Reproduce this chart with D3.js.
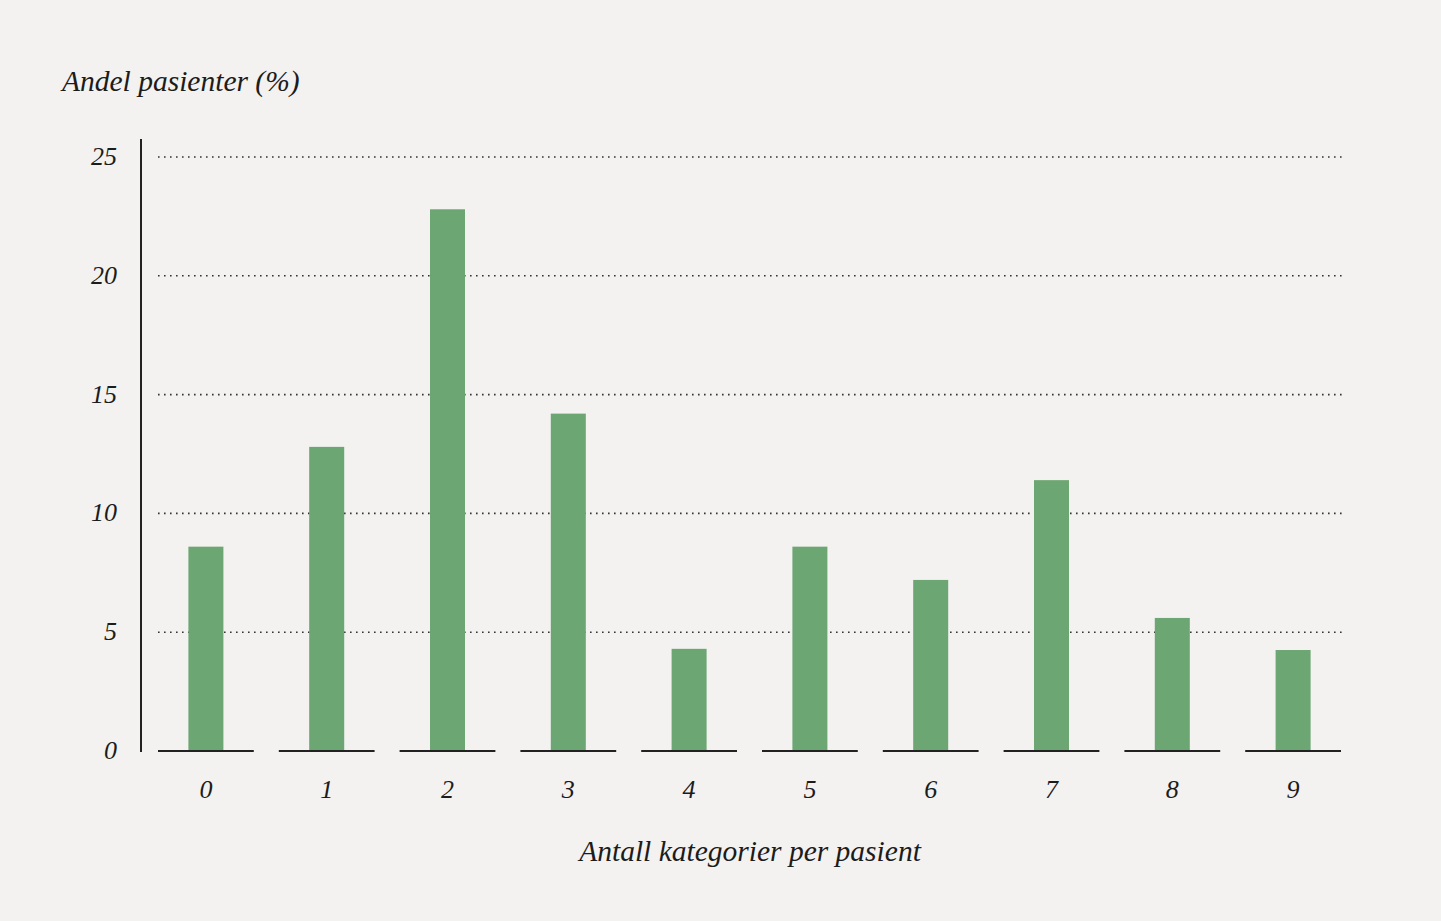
<!DOCTYPE html>
<html>
<head>
<meta charset="utf-8">
<script src="https://cdn.jsdelivr.net/npm/d3@7"></script>
<style>
  html, body { margin: 0; padding: 0; background: #f3f2f0; }
  svg { display: block; }
  text { font-family: 'Liberation Serif', 'DejaVu Serif', serif; font-style: italic; fill: #1c1c1c; }
</style>
</head>
<body>
<svg id="chart"></svg>
<script>
let categories = ['0', '1', '2', '3', '4', '5', '6', '7', '8', '9'];
let shares = [8.6, 12.8, 22.8, 14.2, 4.3, 8.6, 7.2, 11.4, 5.6, 4.25];
let yTicks = [0, 5, 10, 15, 20, 25];
let yTitle = 'Andel pasienter (%)';
let xTitle = 'Antall kategorier per pasient';

var width = 1441, height = 921;
var svg = d3.select('#chart').attr('width', width).attr('height', height);

svg.append('rect').attr('width', width).attr('height', height).attr('fill', '#f3f2f0');

var x = d3.scaleBand().domain(categories).range([158, 1341]).paddingInner(0.207).paddingOuter(0);
var y = d3.scaleLinear().domain([0, 25]).range([751, 157]);
var barWidth = 35;

// dotted gridlines
svg.append('g').selectAll('line')
    .data(yTicks.filter(function(d) { return d > 0; }))
    .enter().append('line')
    .attr('x1', 158).attr('x2', 1342)
    .attr('y1', function(d) { return y(d); })
    .attr('y2', function(d) { return y(d); })
    .attr('stroke', '#333')
    .attr('stroke-width', 1.6)
    .attr('stroke-dasharray', '1.6,4.4');

// bars
svg.append('g').selectAll('rect')
    .data(shares)
    .enter().append('rect')
    .attr('x', function(d, i) { return x(categories[i]) + x.bandwidth() / 2 - barWidth / 2; })
    .attr('y', function(d) { return y(d); })
    .attr('width', barWidth)
    .attr('height', function(d) { return y(0) - y(d); })
    .attr('fill', '#6ca672');

// baseline segments per category
svg.append('g').selectAll('line')
    .data(categories)
    .enter().append('line')
    .attr('x1', function(d) { return x(d); })
    .attr('x2', function(d) { return x(d) + x.bandwidth(); })
    .attr('y1', y(0)).attr('y2', y(0))
    .attr('stroke', '#222')
    .attr('stroke-width', 2);

// y axis line
svg.append('line')
    .attr('x1', 141).attr('x2', 141)
    .attr('y1', 139).attr('y2', y(0) + 1)
    .attr('stroke', '#222')
    .attr('stroke-width', 2);

// y tick labels
svg.append('g').selectAll('text')
    .data(yTicks)
    .enter().append('text')
    .attr('x', 117)
    .attr('y', function(d) { return y(d) + 8; })
    .attr('text-anchor', 'end')
    .attr('font-size', 26)
    .text(function(d) { return d; });

// x tick labels
svg.append('g').selectAll('text')
    .data(categories)
    .enter().append('text')
    .attr('x', function(d) { return x(d) + x.bandwidth() / 2; })
    .attr('y', 798)
    .attr('text-anchor', 'middle')
    .attr('font-size', 26)
    .text(function(d) { return d; });

// titles
svg.append('text')
    .attr('x', 62).attr('y', 91)
    .attr('font-size', 29.5)
    .text(yTitle);

svg.append('text')
    .attr('x', 750).attr('y', 861)
    .attr('text-anchor', 'middle')
    .attr('font-size', 29.5)
    .text(xTitle);
</script>
</body>
</html>
